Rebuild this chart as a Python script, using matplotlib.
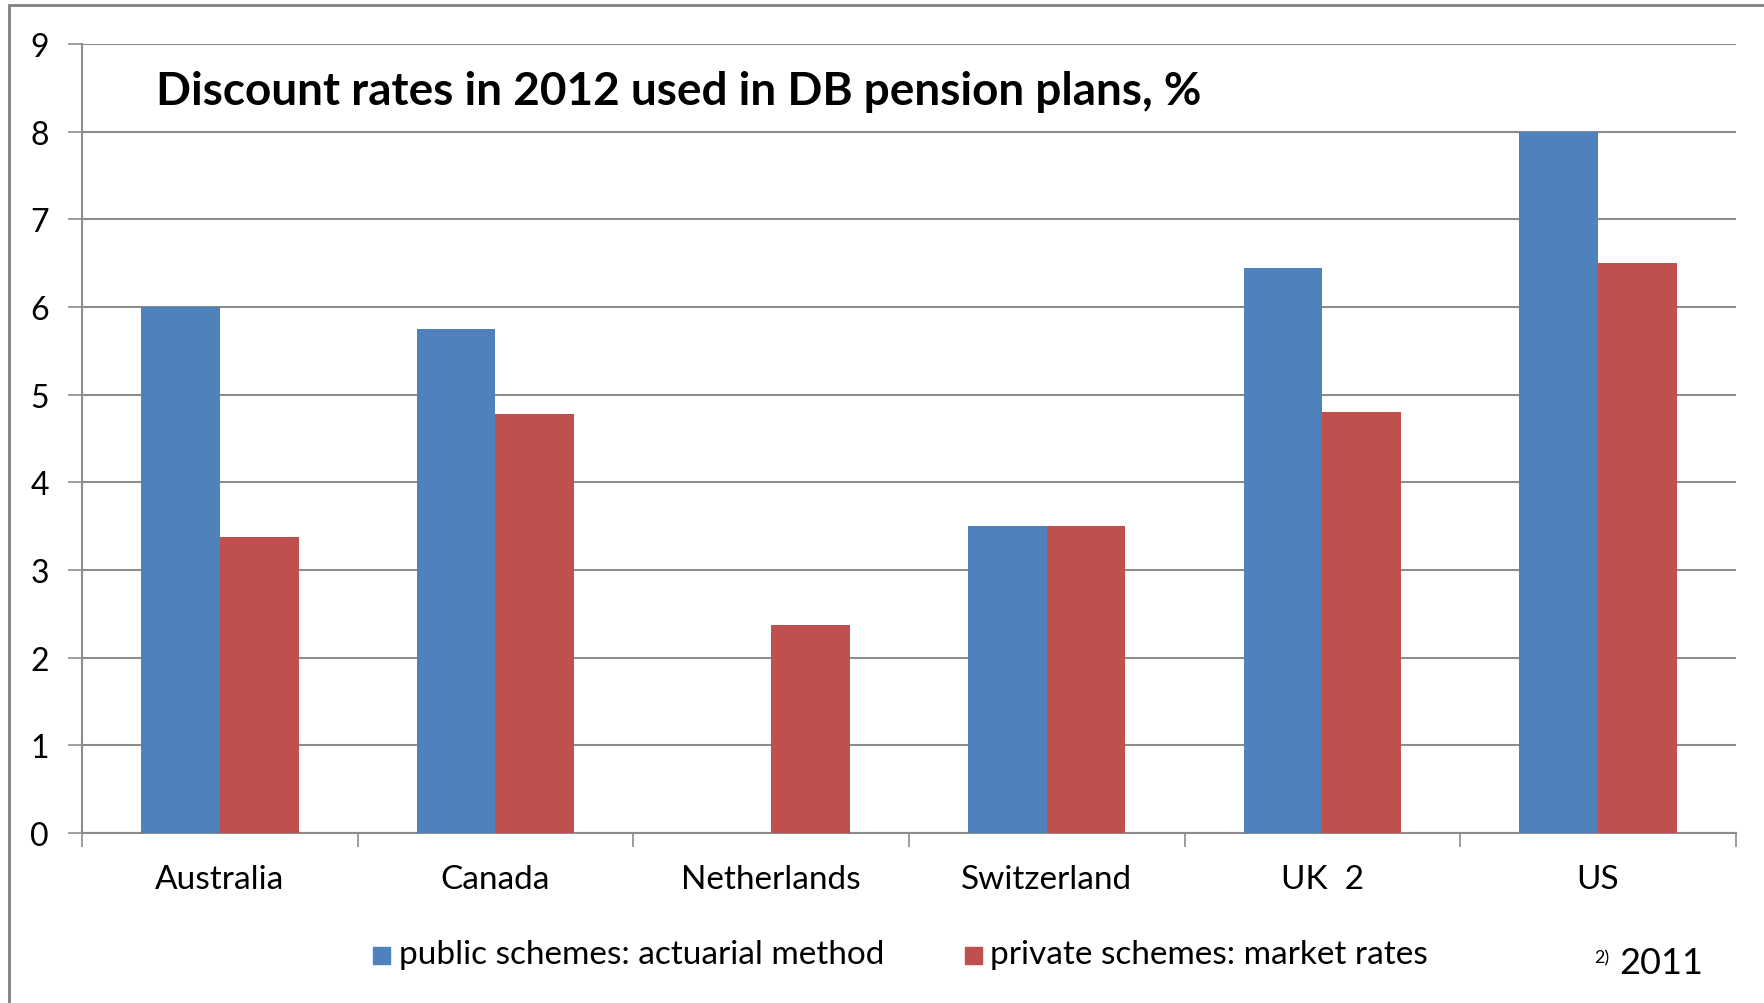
import matplotlib.pyplot as plt
import matplotlib.patches as mpatches
import numpy as np

countries = ["Australia", "Canada", "Netherlands", "Switzerland", "UK  2", "US"]
public_rates = [6.0, 5.75, np.nan, 3.5, 6.45, 8.0]
private_rates = [3.38, 4.78, 2.37, 3.5, 4.8, 6.5]
y_ticks = [0, 1, 2, 3, 4, 5, 6, 7, 8, 9]

blue = "#4F81BD"
red = "#C0504D"
grid_col = "#8C8C8C"

plt.rcParams["font.family"] = ["Lato", "DejaVu Sans"]

fig = plt.figure(figsize=(17.64, 10.04), dpi=100)
ax = fig.add_axes([0.0465, 0.1693, 0.9375, 0.7859])

x = np.arange(len(countries))
w = 0.2857
ax.bar(x - w / 2, public_rates, w, color=blue, zorder=3, label="public schemes: actuarial method")
ax.bar(x + w / 2, private_rates, w, color=red, zorder=3, label="private schemes: market rates")

ax.set_xlim(-0.5, len(countries) - 0.5)
ax.set_ylim(0, 9)
ax.set_yticks(y_ticks)
ax.yaxis.grid(True, color=grid_col, linewidth=1.5, zorder=0)
ax.set_xticks(x)
ax.set_xticklabels(countries, fontsize=24)
ax.tick_params(axis="x", length=0, pad=22)
ax.tick_params(axis="y", labelsize=23, length=10, width=1.2, color=grid_col, pad=14)
# category separator ticks
ax.set_xticks(np.arange(-0.5, len(countries)), minor=True)
ax.tick_params(axis="x", which="minor", length=10, width=1.2, color=grid_col)

for s in ["top", "right"]:
    ax.spines[s].set_visible(False)
for s in ["left", "bottom"]:
    ax.spines[s].set_color(grid_col)
    ax.spines[s].set_linewidth(1.5)

ax.text(0.045, 0.94, "Discount rates in 2012 used in DB pension plans, %",
        transform=ax.transAxes, fontsize=33, fontweight="bold", va="center")

# legend drawn by hand like the excel one
fig.patches.append(mpatches.Rectangle((373 / 1764, 1 - 965 / 1004), 17 / 1764, 17 / 1004,
                                      transform=fig.transFigure, color=blue))
fig.text(399 / 1764, 1 - 955 / 1004, "public schemes: actuarial method", fontsize=24, va="center")
fig.patches.append(mpatches.Rectangle((965 / 1764, 1 - 965 / 1004), 17 / 1764, 17 / 1004,
                                      transform=fig.transFigure, color=red))
fig.text(990 / 1764, 1 - 955 / 1004, "private schemes: market rates", fontsize=24, va="center")
fig.text(1594 / 1764, 1 - 958 / 1004, "2)", fontsize=13, va="center")
fig.text(1619 / 1764, 1 - 964 / 1004, "2011", fontsize=26, va="center")

# outer chart border
fig.patches.append(mpatches.Rectangle((9 / 1764, -0.05), 1.1, 1 - 6 / 1004 + 0.05,
                                      transform=fig.transFigure, fill=False,
                                      edgecolor="#808080", linewidth=2))

fig.savefig("out.png", dpi=100)
